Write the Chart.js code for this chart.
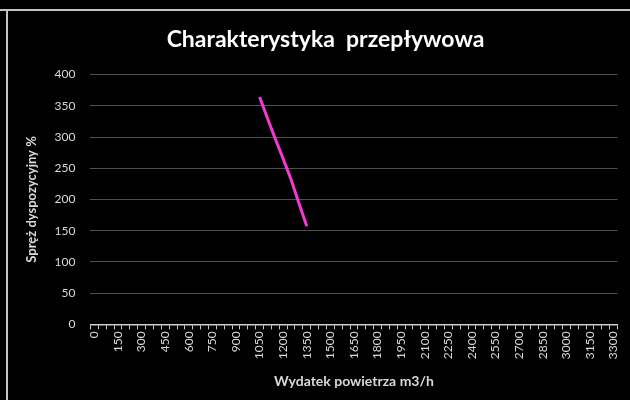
<!DOCTYPE html>
<html>
<head>
<meta charset="utf-8">
<script src="https://cdn.jsdelivr.net/npm/chart.js@4/dist/chart.umd.min.js"></script>
<style>
  html, body { margin: 0; padding: 0; background: #000; }
  #wrap { width: 630px; height: 400px; }
</style>
</head>
<body>
<div id="wrap"><canvas id="chart"></canvas></div>
<script>
// categories every 50 m3/h, labels shown every 150
var flowLabels = [];
for (var f = 0; f <= 3300; f += 50) flowLabels.push(f);

var curveFlow = [1050, 1100, 1150, 1200, 1250, 1300, 1350];
var curvePressure = [364, 330, 297, 265, 232, 194, 157];

var pressureData = flowLabels.map(function (f) {
  var i = curveFlow.indexOf(f);
  return i >= 0 ? curvePressure[i] : null;
});

// black page with the grey frame
var frame = {
  id: 'frame',
  beforeDraw: function (chart) {
    var c = chart.ctx;
    c.save();
    c.fillStyle = '#000';
    c.fillRect(0, 0, chart.width, chart.height);
    c.strokeStyle = '#c4c4c4';
    c.lineWidth = 2;
    c.beginPath();
    c.moveTo(0, 10);
    c.lineTo(chart.width, 10);
    c.moveTo(7, 10);
    c.lineTo(7, chart.height);
    c.stroke();
    c.restore();
  }
};

var ctx = document.getElementById('chart').getContext('2d');
var chart = new Chart(ctx, {
  type: 'line',
  data: {
    labels: flowLabels,
    datasets: [{
      label: 'Charakterystyka',
      data: pressureData,
      borderColor: '#f23ad2',
      borderWidth: 3,
      pointRadius: 0,
      spanGaps: false,
      tension: 0
    }]
  },
  options: {
    responsive: true,
    maintainAspectRatio: false,
    animation: false,
    layout: { padding: { left: 24, right: 3, top: 26, bottom: 10 } },
    plugins: {
      legend: { display: false },
      tooltip: { enabled: false },
      title: {
        display: true,
        text: 'Charakterystyka  przepływowa',
        color: '#ffffff',
        font: { family: 'Lato', size: 23, weight: 'bold' },
        padding: { top: 0, bottom: 21 }
      }
    },
    scales: {
      x: {
        type: 'category',
        offset: true,
        grid: {
          offset: true,
          drawOnChartArea: false,
          drawTicks: true,
          tickLength: 5,
          color: '#d0d0d0'
        },
        border: { color: '#d0d0d0', width: 1.5 },
        ticks: {
          autoSkip: false,
          maxRotation: 90,
          minRotation: 90,
          color: '#d9d9d9',
          font: { family: 'Lato', size: 12 },
          padding: 2,
          callback: function (v, i) {
            return i % 3 === 0 ? String(flowLabels[i]) : '';
          }
        },
        title: {
          display: true,
          text: 'Wydatek powietrza m3/h',
          color: '#d9d9d9',
          font: { family: 'Lato', size: 14, weight: 'bold' },
          padding: { top: 12, bottom: 0 }
        }
      },
      y: {
        min: 0,
        max: 400,
        ticks: {
          stepSize: 50,
          color: '#d9d9d9',
          font: { family: 'Lato', size: 12 },
          padding: 15
        },
        grid: { color: '#505050', drawTicks: false },
        border: { display: false },
        title: {
          display: true,
          text: 'Spręż dyspozycyjny %',
          color: '#d9d9d9',
          font: { family: 'Lato', size: 13, weight: 'bold' },
          padding: { top: 0, bottom: 0 }
        }
      }
    }
  },
  plugins: [frame]
});
</script>
</body>
</html>
